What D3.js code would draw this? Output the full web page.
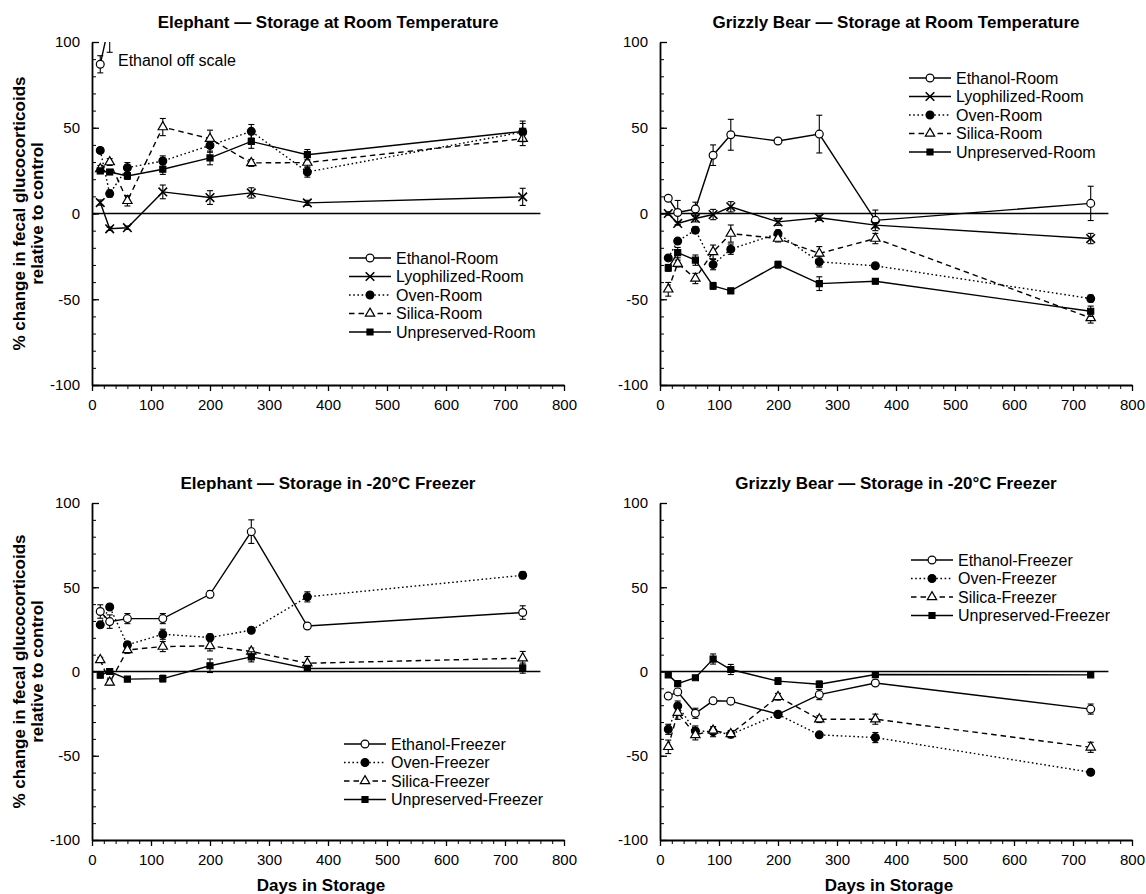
<!DOCTYPE html>
<html>
<head>
<meta charset="utf-8">
<script src="https://cdn.jsdelivr.net/npm/d3@7"></script>
<style>
  body { margin: 0; background: #fff; }
  text { font-family: Arial, "Liberation Sans", Helvetica, sans-serif; fill: #000; }
</style>
</head>
<body>
<script>
"use strict";

// days on which samples were assayed
var elephantDays = [14, 30, 60, 120, 200, 270, 365, 730];
var grizzlyDays = [14, 30, 60, 90, 120, 200, 270, 365, 730];
var offScaleDays = [14, 30];
var xTicks = [0, 100, 200, 300, 400, 500, 600, 700, 800];
var yTicks = [-100, -50, 0, 50, 100];

// Elephant - room temperature
var elRoomEthanol = [87, 112];
var elRoomEthanolErr = [5, 18];
var elRoomLyo = [6.4, -8.9, -8.3, 12.6, 9.3, 12.0, 6.2, 9.7];
var elRoomLyoErr = [1.5, 1, 1, 4, 4, 3, 1.5, 5];
var elRoomOven = [36.8, 11.6, 26.7, 30.6, 39.7, 47.9, 24.2, 47.5];
var elRoomOvenErr = [1.5, 2, 3, 3, 4, 4, 3, 5];
var elRoomSilica = [26, 30, 7.4, 50.4, 43.6, 29.5, 29.7, 43.6];
var elRoomSilicaErr = [2, 2, 3, 5, 5, 2, 3, 4];
var elRoomUnpres = [24.8, 24.2, 21.9, 25.8, 32.4, 42.0, 34.3, 47.9];
var elRoomUnpresErr = [1.5, 1.5, 2, 3, 4, 4, 3, 6];

// Grizzly bear - room temperature
var grRoomEthanol = [8.9, 0.6, 2.6, 34, 45.9, 42.3, 46.3, -4, 5.9];
var grRoomEthanolErr = [1, 7, 4, 6, 9, 1, 11, 6, 10];
var grRoomLyo = [0, -5.8, -2.9, -0.6, 3.9, -4.9, -2.5, -6.8, -14.6];
var grRoomLyoErr = [1, 1, 2, 3, 3, 2, 1.5, 1.5, 3];
var grRoomOven = [-25.9, -16.1, -9.7, -29.8, -20.8, -11.7, -28.2, -30.5, -49.6];
var grRoomOvenErr = [1.5, 1.5, 2, 3, 3, 2, 3, 1.5, 2];
var grRoomSilica = [-44.2, -29.2, -37.9, -22.4, -11.7, -14.6, -23.3, -14.6, -60.9];
var grRoomSilicaErr = [4, 2, 3, 4, 5, 2, 4, 3, 3];
var grRoomUnpres = [-31.7, -22.8, -27.2, -42.2, -45.1, -29.8, -40.9, -39.5, -57];
var grRoomUnpresErr = [2, 3, 3, 2, 1.5, 2, 4, 1.5, 3];

// Elephant - freezer
var elFrzEthanol = [35.6, 29.6, 31.4, 31.4, 45.8, 83, 27, 35];
var elFrzEthanolErr = [4, 4, 3, 3, 2, 7, 1.5, 4];
var elFrzOven = [27.7, 38.3, 15.8, 22.1, 20.2, 24.5, 44.3, 57.1];
var elFrzOvenErr = [1.5, 1.5, 2, 3, 2, 1.5, 3, 2];
var elFrzSilica = [6.9, -6.5, 12.8, 14.8, 15.2, 11.9, 4.9, 7.9];
var elFrzSilicaErr = [1.5, 1.5, 2, 3, 3, 2, 4, 4];
var elFrzUnpres = [-2.2, 0, -4.5, -4.2, 3.4, 8.7, 1.8, 2];
var elFrzUnpresErr = [1.5, 1.5, 1, 2, 4, 3, 1.5, 3];

// Grizzly bear - freezer
var grFrzEthanol = [-14.6, -12.1, -24.8, -17.4, -17.6, -25.4, -13.7, -6.8, -22.3];
var grFrzEthanolErr = [1.5, 1.5, 3, 1.5, 2, 1.5, 3, 1.5, 3];
var grFrzOven = [-34.3, -20.5, -35.3, -35.7, -37.3, -25.5, -37.6, -39.2, -59.8];
var grFrzOvenErr = [3, 3, 3, 3, 2, 1.5, 1.5, 3, 1.5];
var grFrzSilica = [-44.7, -24.4, -37.6, -35, -37, -15, -28.3, -28.3, -45];
var grFrzSilicaErr = [4, 4, 3, 2, 2, 2, 2, 3, 3];
var grFrzUnpres = [-2, -7.2, -3.7, 7.4, 1.2, -5.7, -7.6, -1.8, -2];
var grFrzUnpresErr = [1, 1, 1, 3, 3, 2, 2, 1, 1];

var styles = {
  ethanol:     {marker: 'circle',   fill: '#fff', dash: null},
  lyophilized: {marker: 'times',    fill: 'none', dash: null},
  oven:        {marker: 'circle',   fill: '#000', dash: '1.6,2.6'},
  silica:      {marker: 'triangle', fill: '#fff', dash: '5.5,4'},
  unpreserved: {marker: 'square',   fill: '#000', dash: null}
};

var panels = [
  {
    title: 'Elephant \u2014 Storage at Room Temperature',
    left: 92, top: 42, bottom: 385, legend: [349, 258], yTitle: true, xTitle: false, offScale: true,
    series: [
      {name: 'Ethanol-Room', kind: 'ethanol', days: offScaleDays, v: elRoomEthanol, e: elRoomEthanolErr},
      {name: 'Lyophilized-Room', kind: 'lyophilized', days: elephantDays, v: elRoomLyo, e: elRoomLyoErr},
      {name: 'Oven-Room', kind: 'oven', days: elephantDays, v: elRoomOven, e: elRoomOvenErr},
      {name: 'Silica-Room', kind: 'silica', days: elephantDays, v: elRoomSilica, e: elRoomSilicaErr},
      {name: 'Unpreserved-Room', kind: 'unpreserved', days: elephantDays, v: elRoomUnpres, e: elRoomUnpresErr}
    ]
  },
  {
    title: 'Grizzly Bear \u2014 Storage at Room Temperature',
    left: 660, top: 42, bottom: 385, legend: [909, 78], yTitle: false, xTitle: false,
    series: [
      {name: 'Ethanol-Room', kind: 'ethanol', days: grizzlyDays, v: grRoomEthanol, e: grRoomEthanolErr},
      {name: 'Lyophilized-Room', kind: 'lyophilized', days: grizzlyDays, v: grRoomLyo, e: grRoomLyoErr},
      {name: 'Oven-Room', kind: 'oven', days: grizzlyDays, v: grRoomOven, e: grRoomOvenErr},
      {name: 'Silica-Room', kind: 'silica', days: grizzlyDays, v: grRoomSilica, e: grRoomSilicaErr},
      {name: 'Unpreserved-Room', kind: 'unpreserved', days: grizzlyDays, v: grRoomUnpres, e: grRoomUnpresErr}
    ]
  },
  {
    title: 'Elephant \u2014 Storage in -20\u00b0C Freezer',
    left: 92, top: 503, bottom: 840, legend: [344, 744], yTitle: true, xTitle: true,
    series: [
      {name: 'Ethanol-Freezer', kind: 'ethanol', days: elephantDays, v: elFrzEthanol, e: elFrzEthanolErr},
      {name: 'Oven-Freezer', kind: 'oven', days: elephantDays, v: elFrzOven, e: elFrzOvenErr},
      {name: 'Silica-Freezer', kind: 'silica', days: elephantDays, v: elFrzSilica, e: elFrzSilicaErr},
      {name: 'Unpreserved-Freezer', kind: 'unpreserved', days: elephantDays, v: elFrzUnpres, e: elFrzUnpresErr}
    ]
  },
  {
    title: 'Grizzly Bear \u2014 Storage in -20\u00b0C Freezer',
    left: 660, top: 503, bottom: 840, legend: [911, 560], yTitle: false, xTitle: true,
    series: [
      {name: 'Ethanol-Freezer', kind: 'ethanol', days: grizzlyDays, v: grFrzEthanol, e: grFrzEthanolErr},
      {name: 'Oven-Freezer', kind: 'oven', days: grizzlyDays, v: grFrzOven, e: grFrzOvenErr},
      {name: 'Silica-Freezer', kind: 'silica', days: grizzlyDays, v: grFrzSilica, e: grFrzSilicaErr},
      {name: 'Unpreserved-Freezer', kind: 'unpreserved', days: grizzlyDays, v: grFrzUnpres, e: grFrzUnpresErr}
    ]
  }
];

var svg = d3.select('body').append('svg')
  .attr('width', 1146)
  .attr('height', 894);

var symbolFor = {
  circle: d3.symbol(d3.symbolCircle, 48),
  square: d3.symbol(d3.symbolSquare, 36),
  triangle: d3.symbol(d3.symbolTriangle, 38),
  times: d3.symbol(d3.symbolTimes || d3.symbolX, 50)
};

var drawMarker = function(g, kind, px, py) {
  var st = styles[kind];
  var m = g.append('path')
    .attr('d', symbolFor[st.marker]())
    .attr('transform', 'translate(' + px + ',' + py + ')')
    .attr('stroke', '#000');
  if (st.marker === 'times') {
    m.attr('fill', 'none').attr('stroke-width', 1.6);
  } else {
    m.attr('fill', st.fill).attr('stroke-width', 1.2);
  }
};

var drawPanel = function(p, idx) {
  var x = d3.scaleLinear().domain([0, 800]).range([p.left, p.left + 472]);
  var y = d3.scaleLinear().domain([-100, 100]).range([p.bottom, p.top]);
  var g = svg.append('g').attr('class', 'panel');

  var clipId = 'clip' + idx;
  svg.append('clipPath').attr('id', clipId)
    .append('rect')
    .attr('x', x(0) - 10).attr('y', y(100))
    .attr('width', 500).attr('height', y(-100) - y(100) + 10);

  // title
  g.append('text')
    .attr('x', x(400)).attr('y', p.top - 14)
    .attr('text-anchor', 'middle')
    .style('font-size', '17px').style('font-weight', 'bold')
    .text(p.title);

  // minor ticks
  g.append('g')
    .attr('transform', 'translate(' + x(0) + ',0)')
    .call(d3.axisLeft(y).tickValues(d3.range(-100, 101, 10)).tickSize(-4).tickFormat(''))
    .call(function(a) { a.select('.domain').remove(); });
  g.append('g')
    .attr('transform', 'translate(0,' + y(-100) + ')')
    .call(d3.axisBottom(x).tickValues(d3.range(0, 801, 20)).tickSize(4).tickFormat(''))
    .call(function(a) { a.select('.domain').remove(); });

  // main axes
  var yAx = g.append('g')
    .attr('transform', 'translate(' + x(0) + ',0)')
    .call(d3.axisLeft(y).tickValues(yTicks).tickSize(-7).tickSizeOuter(0).tickPadding(12)
      .tickFormat(function(d) { return String(d); }));
  var xAx = g.append('g')
    .attr('transform', 'translate(0,' + y(-100) + ')')
    .call(d3.axisBottom(x).tickValues(xTicks).tickSize(6).tickSizeOuter(0).tickPadding(8)
      .tickFormat(function(d) { return String(d); }));
  [yAx, xAx].forEach(function(a) {
    a.attr('font-family', null).attr('font-size', null);
    a.selectAll('text').style('font-size', '15px');
    a.select('.domain').attr('stroke-width', 1.8);
    a.selectAll('line').attr('stroke-width', 1.3);
  });
  g.selectAll('.tick line').attr('stroke', '#000');

  // zero reference line
  g.append('line')
    .attr('x1', x(0)).attr('x2', x(760))
    .attr('y1', y(0)).attr('y2', y(0))
    .attr('stroke', '#000').attr('stroke-width', 1.5);

  if (p.yTitle) {
    var yt = g.append('text')
      .attr('transform', 'translate(25,' + y(0) + ') rotate(-90)')
      .attr('text-anchor', 'middle')
      .style('font-size', '17px').style('font-weight', 'bold');
    yt.append('tspan').attr('x', 0).attr('dy', 0).text('% change in fecal glucocorticoids');
    yt.append('tspan').attr('x', 0).attr('dy', 17.5).text('relative to control');
  }
  if (p.xTitle) {
    g.append('text')
      .attr('x', x(388)).attr('y', 891)
      .attr('text-anchor', 'middle')
      .style('font-size', '17px').style('font-weight', 'bold')
      .text('Days in Storage');
  }

  var plot = g.append('g').attr('clip-path', 'url(#' + clipId + ')');

  p.series.forEach(function(s) {
    var st = styles[s.kind];
    var pts = s.days.map(function(d, i) { return {day: d, val: s.v[i], err: s.e[i]}; });
    var line = d3.line()
      .x(function(d) { return x(d.day); })
      .y(function(d) { return y(d.val); });

    plot.append('path')
      .datum(pts)
      .attr('d', line)
      .attr('fill', 'none')
      .attr('stroke', '#000')
      .attr('stroke-width', 1.4)
      .attr('stroke-dasharray', st.dash);

    var eb = plot.append('g').attr('stroke', '#000').attr('stroke-width', 1.1);
    pts.forEach(function(d) {
      var cx = x(d.day);
      eb.append('line').attr('x1', cx).attr('x2', cx)
        .attr('y1', y(d.val - d.err)).attr('y2', y(d.val + d.err));
      [d.val - d.err, d.val + d.err].forEach(function(v) {
        eb.append('line').attr('x1', cx - 3).attr('x2', cx + 3)
          .attr('y1', y(v)).attr('y2', y(v));
      });
    });

    pts.forEach(function(d) {
      if (d.val <= 100) drawMarker(plot, s.kind, x(d.day), y(d.val));
    });
  });

  if (p.offScale) {
    g.append('text')
      .attr('x', x(44)).attr('y', y(86))
      .style('font-size', '16px')
      .text('Ethanol off scale');
  }

  // legend
  var lg = g.append('g').attr('transform', 'translate(' + p.legend[0] + ',' + p.legend[1] + ')');
  p.series.forEach(function(s, i) {
    var st = styles[s.kind];
    var row = lg.append('g').attr('transform', 'translate(0,' + (i * 18.5) + ')');
    row.append('line')
      .attr('x1', 0).attr('x2', 42).attr('y1', 0).attr('y2', 0)
      .attr('stroke', '#000').attr('stroke-width', 1.4)
      .attr('stroke-dasharray', st.dash);
    drawMarker(row, s.kind, 21, 0);
    row.append('text')
      .attr('x', 47).attr('y', 0).attr('dy', '0.36em')
      .style('font-size', '16px')
      .text(s.name);
  });
};

panels.forEach(drawPanel);
</script>
</body>
</html>
